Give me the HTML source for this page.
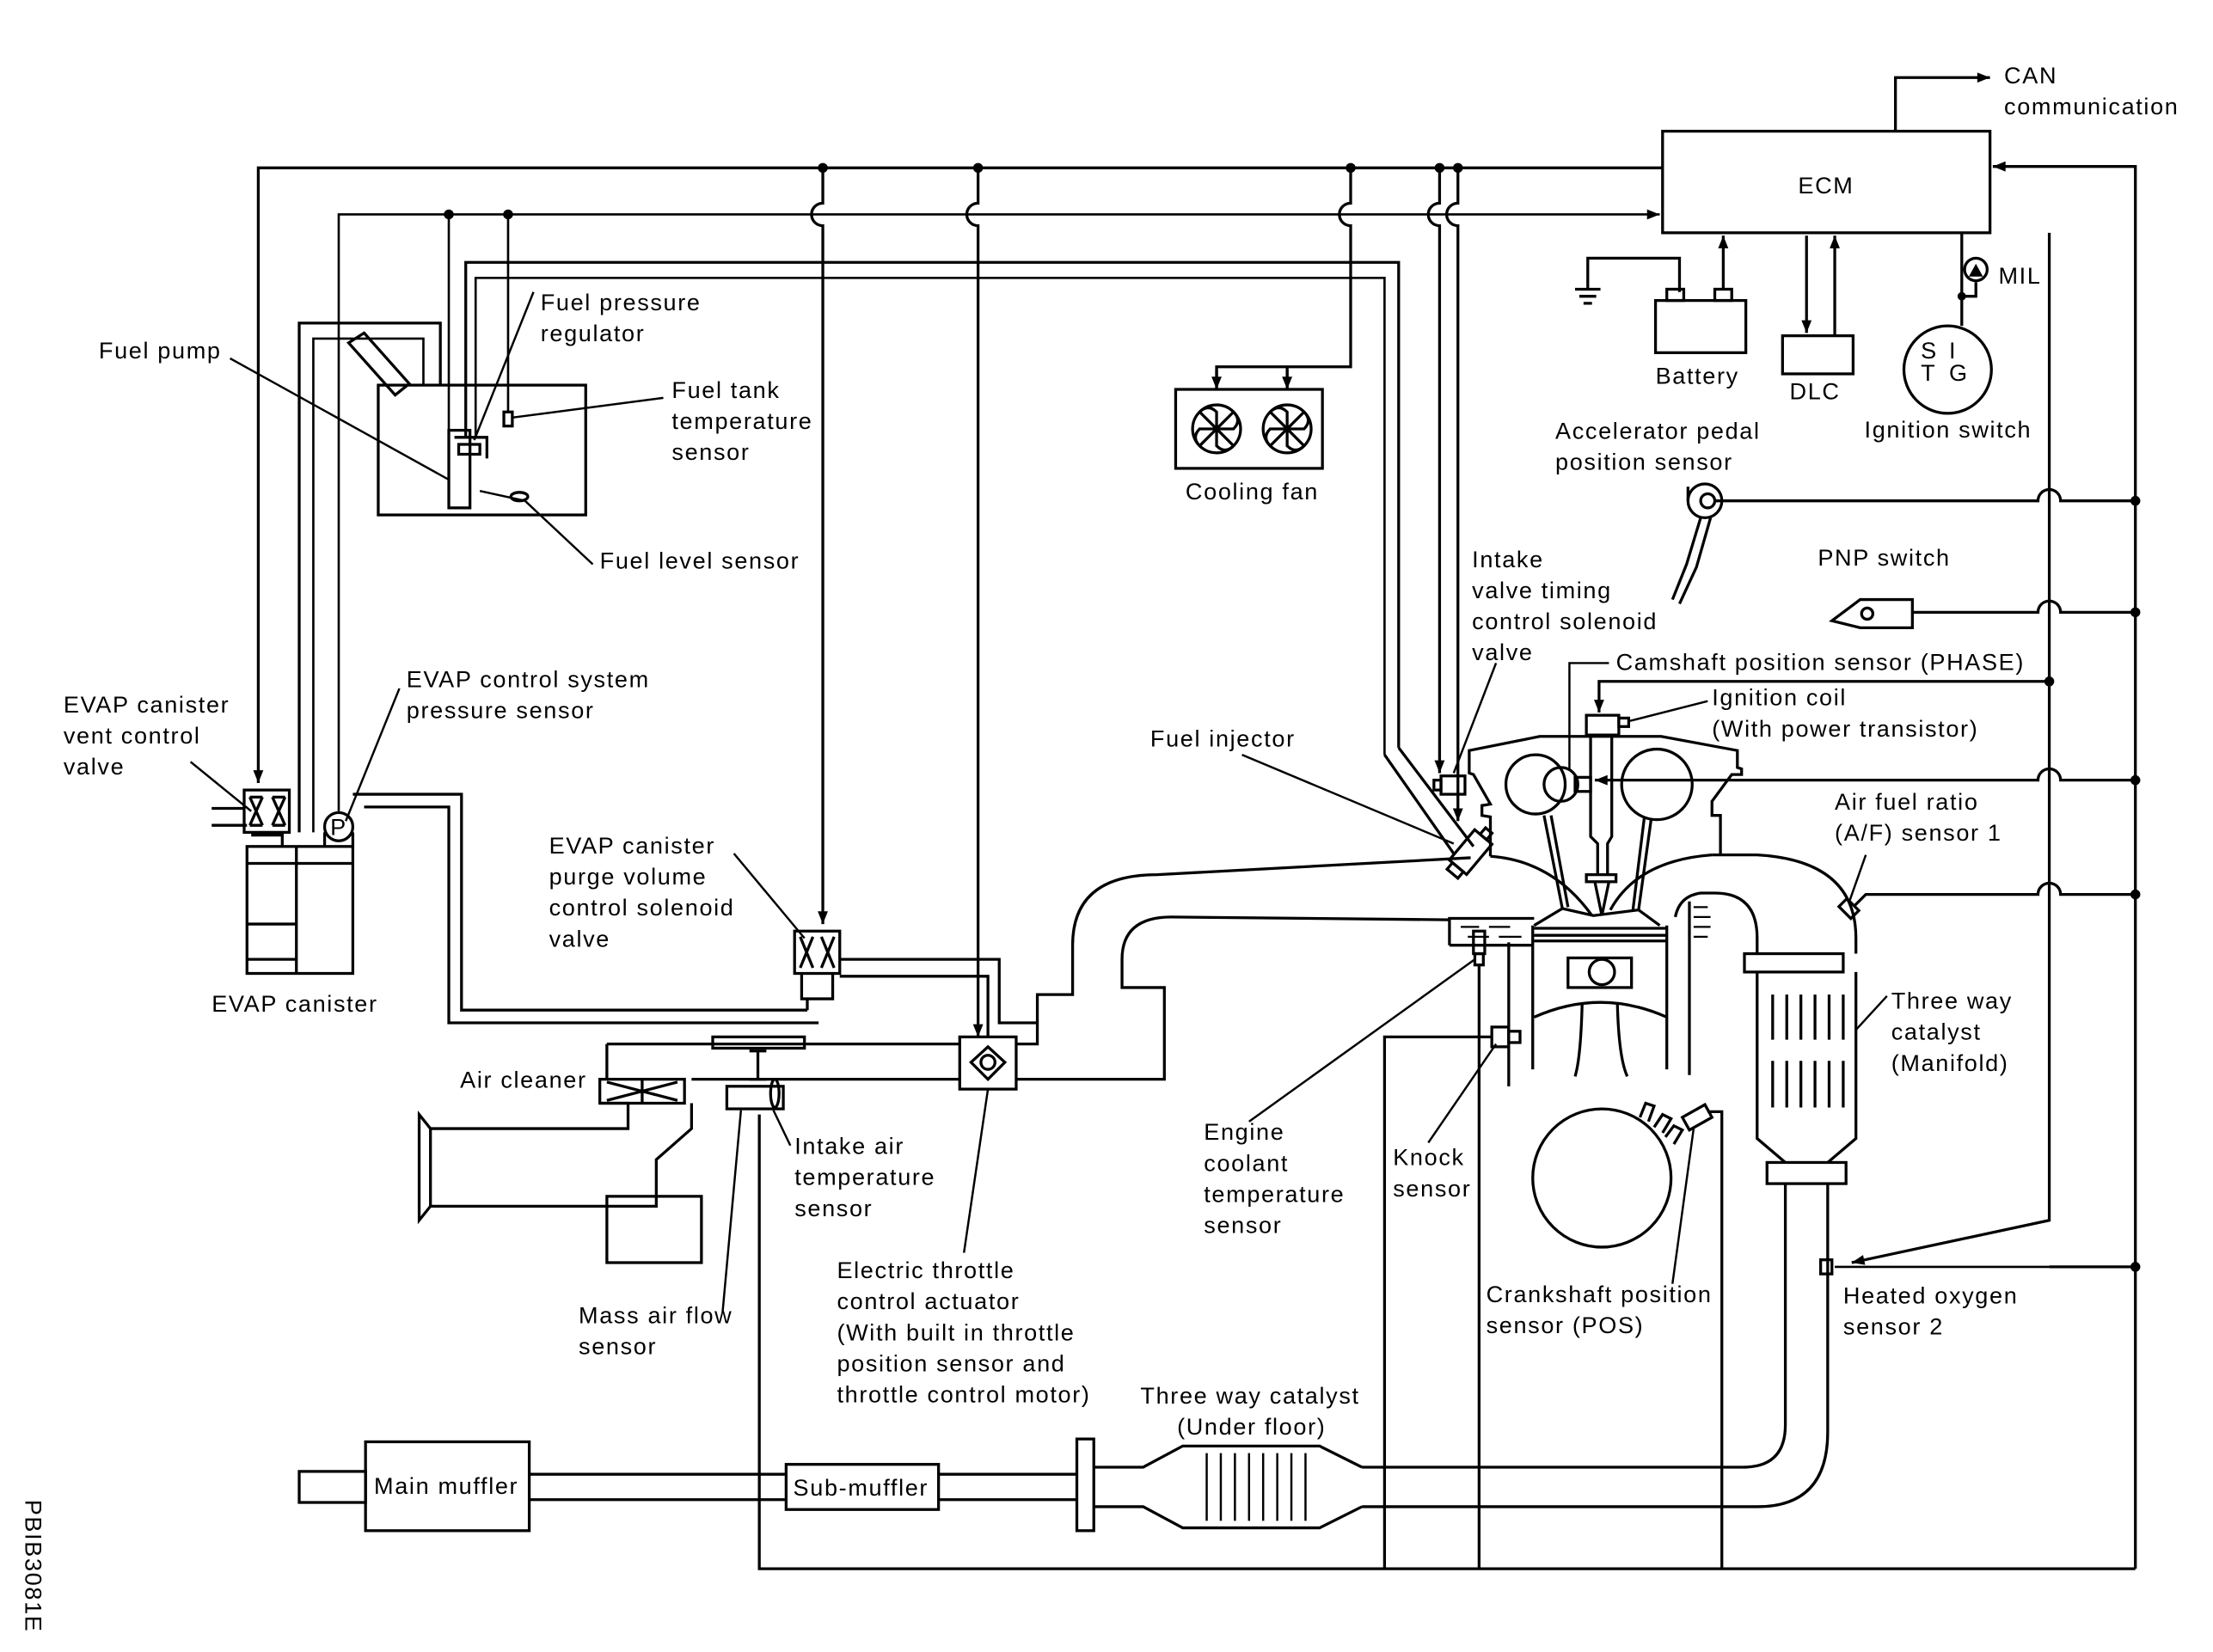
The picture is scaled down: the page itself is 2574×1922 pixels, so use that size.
<!DOCTYPE html>
<html><head><meta charset="utf-8"><style>
html,body{margin:0;padding:0;background:#fff;}
svg{display:block;}
text{font-family:"Liberation Sans",sans-serif;font-size:16.5px;letter-spacing:1px;fill:#000;}
</style></head><body>
<svg width="2574" height="1922" viewBox="0 0 1568 1171" preserveAspectRatio="none" xmlns="http://www.w3.org/2000/svg">
<defs>
<marker id="b" viewBox="0 0 10 10" refX="10" refY="5" markerWidth="10" markerHeight="9" orient="auto" markerUnits="userSpaceOnUse"><path d="M0,1 L10,5 L0,9 z" fill="#000"/></marker>
</defs>
<rect width="1568" height="1171" fill="#fff"/>
<g fill="none" stroke="#000" stroke-width="2">
<rect x="1178" y="93" width="232" height="72"/>
<path d="M1343,93 V55 H1410" marker-end="url(#b)"/>
<path d="M1178,119 H183 V555" marker-end="url(#b)"/>
<path d="M240,575 V152 H1176" marker-end="url(#b)" stroke-width="1.6"/>
<path d="M318,152 V340 M360,152 V292" stroke-width="1.6"/>
<path d="M583,119 V144 A8,8 0 0 0 583,160 V655" marker-end="url(#b)"/>
<path d="M693,119 V144 A8,8 0 0 0 693,160 V735" marker-end="url(#b)"/>
<path d="M957,119 V144 A8,8 0 0 0 957,160 V260 H862 V275 M912,260 V275"/>
<path d="M862,262 V276" marker-end="url(#b)"/><path d="M912,262 V276" marker-end="url(#b)"/>
<path d="M1020,119 V144 A8,8 0 0 0 1020,160 V548" marker-end="url(#b)"/>
<path d="M1033,119 V144 A8,8 0 0 0 1033,160 V582" marker-end="url(#b)"/>
<path d="M991,530 V186 H330 V310"/>
<path d="M981,535 V197 H337 V310" stroke-width="1.6"/>
<path d="M991,530 L1044,600 M981,535 L1030,605"/>
<path d="M1513,1112 V118 H1412" marker-end="url(#b)"/>
<path d="M1452,165 V865 L1312,895" marker-end="url(#b)"/>
<path d="M1215,355 H1444 A8,8 0 0 1 1460,355 H1513"/>
<path d="M1355,434 H1444 A8,8 0 0 1 1460,434 H1513"/>
<path d="M1452,483 H1133 V505" marker-end="url(#b)"/>
<path d="M1513,553 H1460 A8,8 0 0 0 1444,553 H1130" marker-end="url(#b)"/>
<path d="M1513,634 H1460 A8,8 0 0 0 1444,634 H1322 L1314,642"/>
<path d="M1452,898 H1513"/>
<path d="M1300,898 H1452" stroke-width="1.6"/>
<path d="M538,790 V1112 H1513"/>
<path d="M981,1112 V735 H1057"/>
<path d="M1048,1112 V683"/>
<path d="M1220,1112 V788 H1210"/>
<path d="M1125,205 V183 H1190 V207"/>
<path d="M1116,205 H1134 M1119,210 H1131 M1122,215 H1128"/>
<rect x="1173" y="213" width="64" height="37"/>
<rect x="1181" y="205" width="12" height="8"/><rect x="1215" y="205" width="12" height="8"/>
<path d="M1221,205 V167" marker-end="url(#b)"/>
<rect x="1263" y="238" width="50" height="27"/>
<path d="M1280,167 V236" marker-end="url(#b)"/>
<path d="M1300,238 V167" marker-end="url(#b)"/>
<circle cx="1380" cy="262" r="31"/>
<path d="M1390,165 V231 M1390,210 H1400 V200"/>
<circle cx="1400" cy="191" r="8"/>
<rect x="833" y="276" width="104" height="56"/>
<circle cx="862" cy="304" r="17"/><circle cx="912" cy="304" r="17"/>
<path d="M862,304 L850,292 Q856,286 862,292 z M862,304 L874,292 Q880,298 874,304 z M862,304 L874,316 Q868,322 862,316 z M862,304 L850,316 Q844,310 850,304 z"/>
<path d="M912,304 L900,292 Q906,286 912,292 z M912,304 L924,292 Q930,298 924,304 z M912,304 L924,316 Q918,322 912,316 z M912,304 L900,316 Q894,310 900,304 z"/>
<rect x="268" y="273" width="147" height="92"/>
<path d="M212,590 V229 H312 V273"/>
<path d="M222,590 V240 H300 V273" stroke-width="1.6"/>
<path d="M247,243 L258,236 L290,272 L280,280 z"/>
<rect x="318" y="305" width="15" height="55"/>
<path d="M322,310 H345 V325 M325,315 H340 V322 H325 z"/>
<rect x="357" y="292" width="6" height="10"/>
<ellipse cx="368" cy="352" rx="6" ry="3"/>
<path d="M163,254 L318,340 M378,207 L336,312 M470,282 L363,296 M420,400 L372,355 L340,348" stroke-width="1.5"/>
<rect x="175" y="600" width="75" height="90"/>
<path d="M210,600 V690 M175,612 H250 M175,655 H210 M175,680 H210"/>
<rect x="173" y="560" width="32" height="30"/>
<path d="M177,565 L186,585 M186,565 L177,585 M193,565 L202,585 M202,565 L193,585 M177,565 H186 M177,585 H186 M193,565 H202 M193,585 H202"/>
<path d="M150,573 H173 M150,585 H175 M178,592 H200 V600"/>
<circle cx="240" cy="586" r="10"/>
<path d="M230,590 V600 M250,590 V600"/>
<path d="M250,563 H327 V716 H572 M258,572 H318 V725 H580" stroke-width="2"/>
<path d="M135,540 L178,575 M283,488 L245,582 M520,605 L570,665" stroke-width="1.5"/>
<rect x="563" y="660" width="32" height="30"/>
<path d="M567,664 L576,686 M576,664 L567,686 M582,664 L591,686 M591,664 L582,686"/>
<path d="M568,690 V708 H590 V690 M572,708 V716"/>
<path d="M595,680 H708 V725 H735 M595,692 H700 V735"/>
<path d="M430,740 H680 M490,765 H680 M430,740 V765"/>
<rect x="505" y="735" width="65" height="8"/>
<rect x="515" y="770" width="40" height="16"/>
<path d="M537,745 V765 M531,745 H543 M531,765 H543"/>
<ellipse cx="549" cy="775" rx="3" ry="10"/>
<rect x="425" y="765" width="60" height="17"/>
<path d="M430,767 L480,780 M480,767 L430,780 M455,765 V782"/>
<path d="M425,782 L445,782 L445,800 L305,800 M305,855 L465,855 L465,822 L490,800 V782"/>
<path d="M297,790 L305,800 V855 L297,865 z"/>
<rect x="430" y="848" width="67" height="47"/>
<rect x="680" y="735" width="40" height="37"/>
<path d="M700,742 L712,753 L700,765 L688,753 z"/>
<circle cx="700" cy="753" r="5"/>
<path d="M720,740 H735 V705 H760 V670 Q760,620 820,620 L1042,608"/>
<path d="M720,765 H825 V700 H795 V680 Q795,650 830,650 L1027,652"/>
<path d="M1056,607 V579 L1050,578 V571 L1056,570 L1044,549 L1041,548 V532 L1091,522 H1177 L1231,532 V544 L1234,545 V549 L1227,549 L1213,568 V578 L1219,578 V606"/>
<path d="M1056,607 Q1100,610 1128,649"/>
<path d="M1141,645 Q1160,610 1213,606"/>
<path d="M1213,606 H1245 Q1315,610 1315,665"/>
<path d="M1187,650 Q1190,635 1205,633 H1215 Q1245,633 1245,665"/>
<circle cx="1088" cy="556" r="21"/>
<circle cx="1106" cy="556" r="12"/>
<circle cx="1174" cy="556" r="25"/>
<rect x="1116" y="551" width="11" height="10"/>
<rect x="1124" y="507" width="23" height="14"/>
<rect x="1147" y="509" width="7" height="6"/>
<path d="M1127,521 V593 L1132,598 V620 M1142,521 V593 L1139,598 V620"/>
<rect x="1124" y="620" width="21" height="5"/>
<path d="M1130,625 L1135,649 L1140,625"/>
<path d="M1094,578 L1107,644 M1099,578 L1111,643 M1170,580 L1161,645 M1165,580 L1157,645"/>
<path d="M1087,656 L1107,644 L1129,649 L1161,645 L1176,656"/>
<path d="M1087,658 H1181 M1087,663 H1181 M1087,667 H1181"/>
<path d="M1086,656 V758 M1181,656 V758 M1197,639 V762 M1069,668 V770"/>
<rect x="1111" y="679" width="45" height="21"/>
<circle cx="1135" cy="689" r="9"/>
<path d="M1087,721 Q1134,700 1181,721"/>
<path d="M1121,712 Q1120,750 1116,763 M1146,712 Q1147,750 1153,763"/>
<circle cx="1135" cy="835" r="49"/>
<path d="M1162,792 L1166,782 L1172,784 L1168,795 M1172,799 L1178,790 L1184,793 L1178,803 M1180,806 L1186,798 L1192,801 L1186,811"/>
<path d="M1192,792 L1208,783 L1213,792 L1197,801 z"/>
<path d="M1027,670 V651 H1087 M1027,670 H1086"/>
<path d="M1035,657 H1048 M1055,657 H1070 M1040,664 H1055 M1062,664 H1078" stroke-width="1.4"/>
<path d="M1200,643 H1210 M1200,650 H1212 M1200,657 H1212 M1200,664 H1210" stroke-width="1.4"/>
<rect x="1044" y="660" width="8" height="16"/>
<rect x="1045" y="676" width="6" height="8"/>
<rect x="1057" y="728" width="12" height="14"/>
<rect x="1069" y="731" width="8" height="8"/>
<rect x="1021" y="550" width="17" height="13"/>
<rect x="1016" y="553" width="5" height="7"/>
<g transform="translate(1042,604) rotate(40)"><rect x="-8" y="-14" width="16" height="28"/><rect x="-5" y="14" width="10" height="6"/><rect x="-3" y="-20" width="6" height="6"/></g>
<rect x="1236" y="676" width="70" height="13"/>
<path d="M1245,665 V676 M1315,665 V676"/>
<path d="M1245,689 V807 L1265,824 M1315,689 V807 L1295,824"/>
<path d="M1256,705 V737 M1266,705 V737 M1276,705 V737 M1286,705 V737 M1296,705 V737 M1306,705 V737 M1256,752 V785 M1266,752 V785 M1276,752 V785 M1286,752 V785 M1296,752 V785 M1306,752 V785"/>
<rect x="1252" y="824" width="56" height="15"/>
<path d="M1265,839 V1010 Q1265,1040 1235,1040 H965 M1295,839 V1015 Q1295,1068 1245,1068 H965"/>
<g transform="translate(1310,644) rotate(-45)"><rect x="-4" y="-6" width="8" height="12"/></g>
<rect x="1290" y="893" width="8" height="10"/>
<rect x="763" y="1020" width="12" height="65"/>
<path d="M775,1040 H810 L838,1025 H935 L965,1040 M775,1068 H810 L838,1083 H935 L965,1068"/>
<path d="M855,1030 V1078 M865,1030 V1078 M875,1030 V1078 M885,1030 V1078 M895,1030 V1078 M905,1030 V1078 M915,1030 V1078 M925,1030 V1078" stroke-width="1.5"/>
<path d="M665,1045 H763 M665,1063 H763 M375,1045 H557 M375,1063 H557"/>
<rect x="557" y="1038" width="108" height="32"/>
<rect x="259" y="1022" width="116" height="63"/>
<rect x="212" y="1043" width="47" height="22"/>
<circle cx="1208" cy="355" r="12"/><circle cx="1210" cy="355" r="5"/>
<path d="M1196,355 V345 M1205,367 L1195,400 L1185,425 M1212,367 L1202,402 L1190,428"/>
<path d="M1298,440 L1318,425 H1355 V445 H1318 z"/>
<circle cx="1323" cy="435" r="4"/>
<path d="M1060,470 L1030,548 M1112,545 V470 H1140 M1210,497 L1155,511 M880,535 L1030,598 M1322,606 L1310,640 M1337,706 L1315,730 M885,795 L1045,680 M1012,810 L1060,740 M1185,910 L1200,800 M560,812 L548,787 M512,930 L525,787 M683,888 L700,772" stroke-width="1.5"/>
</g>
<g fill="#000">
<circle cx="318" cy="152" r="3.5"/><circle cx="360" cy="152" r="3.5"/>
<circle cx="583" cy="119" r="3.5"/><circle cx="693" cy="119" r="3.5"/><circle cx="957" cy="119" r="3.5"/>
<circle cx="1020" cy="119" r="3.5"/><circle cx="1033" cy="119" r="3.5"/>
<circle cx="1513" cy="355" r="3.5"/><circle cx="1513" cy="434" r="3.5"/><circle cx="1513" cy="553" r="3.5"/>
<circle cx="1513" cy="634" r="3.5"/><circle cx="1513" cy="898" r="3.5"/><circle cx="1452" cy="483" r="3.5"/>
<circle cx="1390" cy="210" r="3"/>
<path d="M1395,196 L1405,196 L1400,187 z"/>
</g>
<text x="234" y="592" font-size="13" letter-spacing="0">P</text>
<text x="1274" y="137">ECM</text>
<text x="1420" y="59">CAN</text><text x="1420" y="81">communication</text>
<text x="1173" y="272">Battery</text><text x="1268" y="283">DLC</text>
<text x="1416" y="201">MIL</text>
<text x="1361" y="254" font-size="15">S</text><text x="1381" y="254" font-size="15">I</text>
<text x="1361" y="270" font-size="15">T</text><text x="1381" y="270" font-size="15">G</text>
<text x="1321" y="310">Ignition switch</text>
<text x="1102" y="311">Accelerator pedal</text><text x="1102" y="333">position sensor</text>
<text x="1288" y="401">PNP switch</text>
<text x="840" y="354">Cooling fan</text>
<text x="70" y="254">Fuel pump</text>
<text x="383" y="220">Fuel pressure</text><text x="383" y="242">regulator</text>
<text x="476" y="282">Fuel tank</text><text x="476" y="304">temperature</text><text x="476" y="326">sensor</text>
<text x="425" y="403">Fuel level sensor</text>
<text x="1043" y="402">Intake</text><text x="1043" y="424">valve timing</text><text x="1043" y="446">control solenoid</text><text x="1043" y="468">valve</text>
<text x="1145" y="475">Camshaft position sensor (PHASE)</text>
<text x="1213" y="500">Ignition coil</text><text x="1213" y="522">(With power transistor)</text>
<text x="815" y="529">Fuel injector</text>
<text x="1300" y="574">Air fuel ratio</text><text x="1300" y="596">(A/F) sensor 1</text>
<text x="45" y="505">EVAP canister</text><text x="45" y="527">vent control</text><text x="45" y="549">valve</text>
<text x="288" y="487">EVAP control system</text><text x="288" y="509">pressure sensor</text>
<text x="150" y="717">EVAP canister</text>
<text x="389" y="605">EVAP canister</text><text x="389" y="627">purge volume</text><text x="389" y="649">control solenoid</text><text x="389" y="671">valve</text>
<text x="1340" y="715">Three way</text><text x="1340" y="737">catalyst</text><text x="1340" y="759">(Manifold)</text>
<text x="326" y="771">Air cleaner</text>
<text x="563" y="818">Intake air</text><text x="563" y="840">temperature</text><text x="563" y="862">sensor</text>
<text x="853" y="808">Engine</text><text x="853" y="830">coolant</text><text x="853" y="852">temperature</text><text x="853" y="874">sensor</text>
<text x="987" y="826">Knock</text><text x="987" y="848">sensor</text>
<text x="410" y="938">Mass air flow</text><text x="410" y="960">sensor</text>
<text x="593" y="906">Electric throttle</text><text x="593" y="928">control actuator</text><text x="593" y="950">(With built in throttle</text><text x="593" y="972">position sensor and</text><text x="593" y="994">throttle control motor)</text>
<text x="1053" y="923">Crankshaft position</text><text x="1053" y="945">sensor (POS)</text>
<text x="1306" y="924">Heated oxygen</text><text x="1306" y="946">sensor 2</text>
<text x="808" y="995">Three way catalyst</text><text x="834" y="1017">(Under floor)</text>
<text x="265" y="1059">Main muffler</text>
<text x="562" y="1060">Sub-muffler</text>
<text x="0" y="0" font-size="11" letter-spacing="0" transform="translate(18,1063) rotate(90)">PBIB3081E</text>
</svg>
</body></html>
